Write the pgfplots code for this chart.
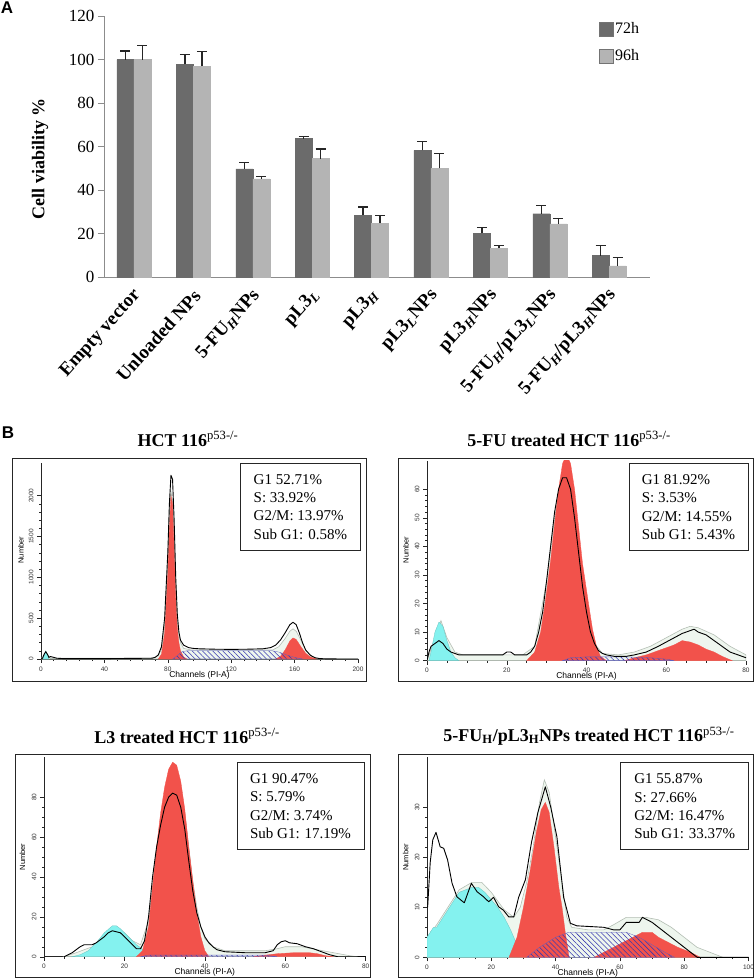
\documentclass[border=0pt]{standalone}
\usepackage{fontspec}
\setmainfont{Liberation Serif}
\newfontfamily\arial{Liberation Sans}
\usepackage{pgfplots}
\pgfplotsset{compat=1.18}
\usetikzlibrary{patterns.meta}
\definecolor{bardark}{HTML}{6B6B6B}
\definecolor{barlight}{HTML}{B4B4B4}
\definecolor{g1red}{HTML}{F2524B}
\definecolor{subcyan}{HTML}{84F2EF}
\definecolor{hatchblue}{HTML}{3838B0}
\definecolor{fitgray}{HTML}{B4BEB4}
\definecolor{fitfill}{HTML}{EEF6EE}
\pgfplotsset{
  flowax/.style={
    scale only axis, anchor=south west,
    axis x line=bottom, axis y line=left,
    axis line style={-, black!85, line width=0.5pt},
    xmin=0, ymin=0, enlargelimits=false,
    tick align=outside, major tick length=4pt, minor tick length=2pt,
    tick style={black!85, line width=0.4pt},
    ticklabel style={font=\arial\fontsize{6.5}{7}\selectfont, text=black!80},
    yticklabel style={rotate=90, anchor=south},
    /pgf/number format/assume math mode=true,
    /pgf/number format/1000 sep={},
    xlabel={Channels (PI-A)}, ylabel={Number},
    xlabel style={font=\arial\fontsize{8.5}{9}\selectfont, anchor=center},
    ylabel style={font=\arial\fontsize{7.5}{8}\selectfont, anchor=center},
  },
  fitarea/.style={draw=fitgray, fill=fitfill, line width=0.6pt},
  cyanarea/.style={draw=subcyan!80!black, fill=subcyan, line width=0.3pt},
  redarea/.style={draw=g1red, fill=g1red, line width=0.3pt},
  hatcharea/.style={draw=hatchblue!80, line width=0.3pt,
    pattern={Lines[angle=-45, distance=3.6pt, line width=0.55pt]}, pattern color=hatchblue},
  dataline/.style={black, line width=0.9pt, line join=round},
  errstyle/.style={error bars/y dir=plus, error bars/y explicit, error bars/error mark=-,
    error bars/error bar style={black!85, line width=1.3pt},
    error bars/error mark options={rotate=90, black!85, line width=1.3pt, mark size=5pt}},
}
\tikzset{
  infobox/.style={draw=black!85, line width=0.7pt, anchor=north west, inner xsep=10pt, inner ysep=0pt,
    minimum height=87pt, align=left, font=\fontsize{15}{18.3}\selectfont},
}
\begin{document}
\begin{tikzpicture}
\path[use as bounding box] (0pt,0pt) rectangle (754pt,-978pt);
% ---------------- panel A
\node[font=\arial\bfseries\fontsize{17}{17}\selectfont] at (7pt,-8pt) {A};
\begin{axis}[
  at={(104pt,-277pt)}, anchor=south west,
  scale only axis, width=546pt, height=261pt,
  ybar=0pt, bar width=17pt,
  xmin=-0.505, xmax=8.687, ymin=0, ymax=120,
  axis x line=bottom, axis y line=left,
  axis line style={-, draw=black!45, line width=0.8pt},
  xtick={0,...,8}, xtick style={draw=none},
  xticklabels={Empty vector, Unloaded NPs, 5-FU\textsubscript{\textit{H}}NPs, pL3\textsubscript{\textit{L}}, pL3\textsubscript{\textit{H}}, pL3\textsubscript{\textit{L}}NPs, pL3\textsubscript{\textit{H}}NPs, 5-FU\textsubscript{\textit{H}}/pL3\textsubscript{\textit{L}}NPs, 5-FU\textsubscript{\textit{H}}/pL3\textsubscript{\textit{H}}NPs},
  xticklabel style={xshift=6pt, yshift=-7pt, rotate=48, anchor=east, font=\bfseries\fontsize{19}{19}\selectfont},
  ytick={0,20,...,120}, tick align=outside, major tick length=6pt,
  ytick style={draw=black!45, line width=0.8pt},
  yticklabel style={font=\fontsize{17}{17}\selectfont},
  /pgf/number format/assume math mode=true,
  ylabel={\textbf{Cell viability \%}},
  ylabel style={at={(axis description cs:-0.117,0.454)}, anchor=center, font=\fontsize{18}{18}\selectfont},
  legend style={draw=none, fill=none, at={(axis description cs:0.9,0.99)}, anchor=north west,
    font=\fontsize{16}{16}\selectfont, row sep=10pt},
  legend cell align=left,
]
\addplot[fill=bardark, draw=bardark, errstyle,
  legend image code/.code={\draw[fill=bardark, draw=black!55] (0pt,-7pt) rectangle (14pt,7pt);}]
  coordinates {(0,100) +- (0,3.9) (1,97.9) +- (0,4.3) (2,49.7) +- (0,2.9) (3,63.6) +- (0,0.9)
  (4,28.4) +- (0,3.8) (5,58.2) +- (0,4.0) (6,20.1) +- (0,2.6) (7,29.1) +- (0,3.7) (8,9.8) +- (0,4.6)};
\addplot[fill=barlight, draw=barlight, errstyle,
  legend image code/.code={\draw[fill=barlight, draw=black!55] (0pt,-7pt) rectangle (14pt,7pt);}]
  coordinates {(0,100) +- (0,6.3) (1,97.0) +- (0,6.6) (2,45.1) +- (0,1.2) (3,54.4) +- (0,4.5)
  (4,24.7) +- (0,3.5) (5,50.0) +- (0,6.7) (6,13.3) +- (0,1.1) (7,24.4) +- (0,2.6) (8,5.1) +- (0,3.8)};
\legend{72h,96h}
\end{axis}
% ---------------- panel B
\node[font=\arial\bfseries\fontsize{17}{17}\selectfont] at (8pt,-433pt) {B};
\node[font=\bfseries\fontsize{18}{20}\selectfont] at (188pt,-439pt) {HCT 116\textsuperscript{\mdseries p53-/-}};
\node[font=\bfseries\fontsize{18}{20}\selectfont] at (569pt,-439pt) {5-FU treated HCT 116\textsuperscript{\mdseries p53-/-}};
\node[font=\bfseries\fontsize{18}{20}\selectfont] at (187pt,-736pt) {L3 treated HCT 116\textsuperscript{\mdseries p53-/-}};
\node[font=\bfseries\fontsize{18}{20}\selectfont] at (589pt,-736pt) {5-FU\textsubscript{H}/pL3\textsubscript{H}NPs treated HCT 116\textsuperscript{\mdseries p53-/-}};
\draw[black!85, line width=1pt] (12pt,-458pt) rectangle (366pt,-681pt);
\draw[black!85, line width=1pt] (398pt,-458pt) rectangle (753pt,-681pt);
\draw[black!85, line width=1pt] (15pt,-754pt) rectangle (370pt,-977pt);
\draw[black!85, line width=1pt] (398pt,-754pt) rectangle (753pt,-977pt);
% histogram 1
\begin{axis}[flowax, at={(41pt,-659pt)}, width=317pt, height=196pt,
  xmax=200, ymax=2400, xtick={0,40,...,200}, minor x tick num=4,
  ytick={0,500,...,2000}, minor y tick num=4,
  xlabel style={at={(axis description cs:0.5,-0.082)}},
  ylabel style={at={(axis description cs:-0.063,0.555)}}]
\addplot[fitarea] coordinates {(0,0)(2,50)(3,90)(4,50)(6,10)(10,10)(70,10)(74,40)(76,120)(78,420)(80,1150)(81,1750)(82,2050)(83,1950)(84,1450)(85,850)(86,450)(88,200)(90,130)(95,110)(146,110)(150,150)(154,250)(157,340)(159,370)(161,340)(164,230)(167,110)(170,40)(174,10)(178,0)(200,0)} \closedcycle;
\addplot[cyanarea] coordinates {(1,0)(2,40)(3,100)(4,50)(5,0)} \closedcycle;
\addplot[redarea] coordinates {(74,0)(76,60)(78,320)(80,1050)(81,1600)(82,2000)(83,1900)(84,1350)(85,750)(86,380)(87,200)(88,100)(90,25)(92,0)} \closedcycle;
\addplot[redarea] coordinates {(148,0)(151,30)(154,110)(157,220)(159,258)(161,240)(164,150)(167,70)(170,25)(174,0)} \closedcycle;
\addplot[hatcharea] coordinates {(83,0)(86,40)(89,90)(92,100)(146,100)(150,85)(155,50)(160,20)(165,0)} \closedcycle;
\addplot[dataline] coordinates {(0,0)(1,10)(2,60)(3,90)(4,60)(5,20)(6,30)(8,20)(10,10)(14,5)(20,5)(40,5)(60,8)(70,10)(72,20)(74,50)(76,150)(78,500)(80,1300)(81,1900)(82,2250)(83,2200)(84,1700)(85,1000)(86,550)(87,330)(88,230)(90,170)(93,140)(96,130)(100,125)(110,120)(120,118)(130,120)(140,125)(145,140)(148,170)(151,230)(154,320)(157,420)(159,450)(161,420)(163,320)(165,200)(167,110)(170,45)(173,15)(176,5)(180,2)(190,0)(200,0)};
\end{axis}
% histogram 2
\begin{axis}[flowax, at={(427pt,-660.6pt)}, width=319pt, height=200pt,
  xmax=80, ymax=70, xtick={0,20,...,80}, minor x tick num=3,
  ytick={0,10,...,60}, minor y tick num=4,
  xlabel style={at={(axis description cs:0.5,-0.08)}},
  ylabel style={at={(axis description cs:-0.066,0.553)}}]
\addplot[fitarea] coordinates {(0,0)(2,8)(3.5,14)(5,8)(7,3)(9,2)(24,2)(27,5)(30,28)(32,50)(34,66)(35,68)(36,64)(38,42)(40,20)(42,6)(44,2.5)(48,2)(52,3)(56,5)(60,8)(64,11)(66,12)(68,11.5)(72,9)(76,5)(80,2)} \closedcycle;
\addplot[cyanarea] coordinates {(0.5,0)(1,3)(2,10)(3,13.5)(4,12)(5,7)(6,3)(7,1)(8,0)} \closedcycle;
\addplot[redarea] coordinates {(25,0)(27,3)(28.5,10)(29.6,20)(31,35)(32,48)(33,60)(34,69)(35,72)(36,69)(37,60)(38,47)(39,34)(40.5,20)(41.5,11)(42.5,5)(43.5,1.5)(45,0)} \closedcycle;
\addplot[redarea] coordinates {(49.5,0)(52,1)(55,2)(58,3.5)(60,4.5)(62,5.5)(64,7)(66,6.5)(68,5.5)(70,4)(72,3)(74,1.5)(76.5,0)} \closedcycle;
\addplot[hatcharea] coordinates {(34,0)(36,1)(40,1.3)(50,1.3)(56,1)(60,0.5)(62,0)} \closedcycle;
\addplot[dataline] coordinates {(0,0)(0.5,3)(1,5)(2,6)(3,7)(4,6)(5,4)(6,3)(7,2.5)(8,2)(10,2)(15,2)(19,2)(20,3)(21,3)(22,2)(25,2)(26,3)(27,5)(28,10)(29,17)(30,28)(31,40)(32,52)(33,60)(34,64)(35,64)(36,60)(37,50)(38,38)(39,26)(40,17)(41,10)(42,6)(43,3.5)(44,2.5)(45,2)(47,1.5)(50,1.5)(52,2)(55,3)(58,5)(60,6.5)(62,8)(64,9.5)(66,10.5)(67,11)(68,10)(70,9)(72,7)(74,5)(76,3)(78,2)(80,1)};
\end{axis}
% histogram 3
\begin{axis}[flowax, at={(44pt,-956.7pt)}, width=321.7pt, height=199.5pt,
  xmax=80, ymax=100, xtick={0,20,...,80}, minor x tick num=3,
  ytick={0,20,...,80}, minor y tick num=3,
  xlabel style={at={(axis description cs:0.5,-0.08)}},
  ylabel style={at={(axis description cs:-0.067,0.5)}}]
\addplot[fitarea] coordinates {(5,0)(8,2)(12,5)(15,10)(17,14)(18,14.5)(20,12)(22,8)(24,6)(26,18)(28,52)(30,82)(31,92)(32,96)(33,94)(34,86)(35,72)(36,55)(37,38)(38,25)(39,15)(40,9)(42,5)(45,3)(50,3)(55,3)(58,4)(60,5)(64,5)(68,3.5)(72,2)(76,0.5)(78,0)} \closedcycle;
\addplot[cyanarea] coordinates {(7,0)(9,1)(11,3)(13,7)(15,12)(17,15.5)(18,15.5)(19,14)(21,10)(23,6)(25,3)(27,1)(28,0)} \closedcycle;
\addplot[redarea] coordinates {(23,0)(24.5,3)(26,15)(27,35)(28,55)(29,72)(30,85)(31,94)(32,97.5)(33,96)(34,88)(35,74)(36,55)(37,38)(38,22)(39,10)(40,3)(41,0)} \closedcycle;
\addplot[redarea] coordinates {(52,0)(55,0.8)(58,1.5)(62,2)(66,2)(68,1.5)(70,0.5)(72,0)} \closedcycle;
\addplot[hatcharea] coordinates {(24,0)(26,0.8)(55,0.8)(58,0)} \closedcycle;
\addplot[dataline] coordinates {(5,0)(7,2)(9,5)(10,6)(12,6)(13,7)(15,10)(16,12)(17,13)(18,12.5)(19,12)(20,10)(21,8)(22,6)(23,4)(24,4)(25,8)(26,20)(27,40)(28,55)(29,66)(30,75)(31,80)(32,82)(33,81)(34,75)(35,64)(36,48)(37,33)(38,22)(39,15)(40,10)(41,7)(42,5)(43,3.5)(45,2.5)(50,2)(55,2)(57,3)(58,6)(59,7.5)(60,8)(61,7)(63,6.5)(65,5)(67,4)(69,2.5)(71,1)(73,0)(80,0)};
\end{axis}
% histogram 4
\begin{axis}[flowax, at={(427pt,-957.3pt)}, width=321.5pt, height=200pt,
  xmax=100, ymax=40, xtick={0,20,...,100}, minor x tick num=3,
  ytick={0,10,...,30}, minor y tick num=4,
  xlabel style={at={(axis description cs:0.5,-0.08)}},
  ylabel style={at={(axis description cs:-0.066,0.5)}}]
\addplot[fitarea] coordinates {(0,4)(3,6.5)(6,9.5)(10,13.5)(14,15)(17,15)(20,13)(24,9.5)(27,8)(29,10)(31,15)(33,22)(35,31)(36.5,35.5)(38,33)(40,24)(42,15)(43.5,8)(45,6)(50,5.5)(55,5.5)(58,6.5)(62,8)(68,8)(72,7.5)(76,6)(80,4)(84,2)(88,1)(92,0)} \closedcycle;
\addplot[cyanarea] coordinates {(0,4)(1,5)(2,6)(3,6)(4,7)(6,9)(8,11)(10,13)(12,13.5)(14,14)(16,14)(18,13)(20,11.5)(22,10)(24,8)(26,5.5)(28,2.5)(29.5,0)} \closedcycle;
\addplot[redarea] coordinates {(25.5,0)(28,4)(30,10)(32,17)(34,25)(35.5,29.5)(36.8,31)(38,29)(39.5,22)(41,14)(42,10)(43,5)(44.2,0)} \closedcycle;
\addplot[redarea] coordinates {(52,0)(55,1)(58,2)(61,3)(64,4)(67,5)(70,5)(72,4)(75,3)(78,2)(82,1)(85,0)} \closedcycle;
\addplot[hatcharea] coordinates {(31,0)(35,2)(40,4)(44,5)(62,5)(66,4)(70,2.5)(74,1)(77,0)} \closedcycle;
\addplot[dataline] coordinates {(0.2,10)(1,19)(1.8,23.5)(2.8,25)(4.1,22.1)(5.2,21.8)(6.4,19.5)(7.8,14.8)(9.3,12.1)(11.6,10.9)(13.8,14.8)(15.6,13.1)(17.6,12.1)(19.2,11.1)(20.7,12)(22.3,10.1)(23.8,9.4)(25.4,8.1)(27,8.1)(28.5,12)(30.6,15.5)(32.5,23)(34.5,29)(36.8,34.1)(38.5,30)(40.4,24.1)(42.5,12)(44.6,6.8)(46.6,6.3)(55,6)(58,5.5)(60,5.5)(62,7)(66,7)(67,8)(70,7)(74,5)(78,3)(82,1)(84,0)(100,0)};
\end{axis}
% info boxes
\node[infobox, minimum width=120pt] at (240pt,-463pt) {G1 52.71\%\\S: 33.92\%\\G2/M: 13.97\%\\Sub G1: 0.58\%};
\node[infobox, minimum width=119pt] at (628.7pt,-463.3pt) {G1 81.92\%\\S: 3.53\%\\G2/M: 14.55\%\\Sub G1: 5.43\%};
\node[infobox, minimum width=127pt] at (236.7pt,-762.3pt) {G1 90.47\%\\S: 5.79\%\\G2/M: 3.74\%\\Sub G1: 17.19\%};
\node[infobox, minimum width=128pt, line width=1pt] at (620.3pt,-762.3pt) {G1 55.87\%\\S: 27.66\%\\G2/M: 16.47\%\\Sub G1: 33.37\%};
\end{tikzpicture}
\end{document}
